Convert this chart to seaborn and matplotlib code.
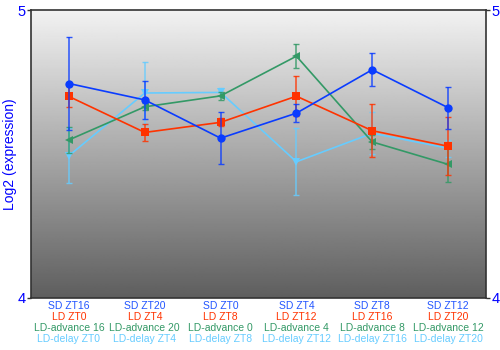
import numpy as np
import pandas as pd
import matplotlib
matplotlib.use("Agg")
import matplotlib.pyplot as plt
import seaborn as sns

# Sample groups (one label line per series under each position)
sd_labels = ["SD ZT16", "SD ZT20", "SD ZT0", "SD ZT4", "SD ZT8", "SD ZT12"]
ld_labels = ["LD ZT0", "LD ZT4", "LD ZT8", "LD ZT12", "LD ZT16", "LD ZT20"]
adv_labels = ["LD-advance 16", "LD-advance 20", "LD-advance 0",
              "LD-advance 4", "LD-advance 8", "LD-advance 12"]
delay_labels = ["LD-delay ZT0", "LD-delay ZT4", "LD-delay ZT8",
                "LD-delay ZT12", "LD-delay ZT16", "LD-delay ZT20"]

# Log2 expression means and error
sd_mean = [4.745, 4.688, 4.555, 4.642, 4.793, 4.661]
sd_err = [0.163, 0.066, 0.090, 0.032, 0.057, 0.073]
ld_mean = [4.700, 4.575, 4.610, 4.701, 4.581, 4.527]
ld_err = [0.035, 0.031, 0.014, 0.070, 0.093, 0.100]
adv_mean = [4.549, 4.664, 4.702, 4.840, 4.542, 4.464]
adv_err = [0.045, 0.012, 0.014, 0.041, 0.025, 0.062]
delay_mean = [4.494, 4.712, 4.714, 4.473, 4.572, 4.520]
delay_err = [0.096, 0.107, 0.014, 0.117, 0.073, 0.030]

series = [
    ("LD-delay", delay_mean, delay_err, "#66ccff", "v", delay_labels),
    ("LD-advance", adv_mean, adv_err, "#339966", "<", adv_labels),
    ("LD", ld_mean, ld_err, "#ff3300", "s", ld_labels),
    ("SD", sd_mean, sd_err, "#0a3cff", "o", sd_labels),
]

sns.set_theme(style="white")
plt.rcParams["font.family"] = ["Liberation Sans", "DejaVu Sans"]

fig = plt.figure(figsize=(5, 3.5), dpi=100)
ax = fig.add_axes([0.062, 0.149, 0.910, 0.822])

# grey vertical gradient background
grad = np.linspace(0.37, 0.95, 256).reshape(-1, 1)
ax.imshow(grad, cmap="gray", vmin=0, vmax=1, aspect="auto", origin="lower",
          extent=[0, 1, 0, 1], transform=ax.transAxes, zorder=0)

x = np.arange(len(sd_labels))
for i, (name, mean, err, color, marker, _) in enumerate(series):
    df = pd.DataFrame({"x": x, "y": mean})
    ax.errorbar(x, mean, yerr=err, fmt="none", ecolor=color, elinewidth=1.1,
                capsize=2.5, capthick=1.0, alpha=0.85, zorder=2 + i)
    sns.lineplot(data=df, x="x", y="y", ax=ax, color=color, marker=marker,
                 markersize=6 if marker != "s" else 5.5, markeredgewidth=0,
                 linewidth=1.2, zorder=3 + i, legend=False)

ax.set_xlim(-0.5, len(x) - 0.5)
ax.set_ylim(4, 5)
ax.set_xticks([])
ax.set_yticks([4, 5])
ax.set_yticklabels(["4", "5"])
ax.set_xlabel("")
ax.set_ylabel("Log2 (expression)", color="#0000ff", fontsize=10)
ax.yaxis.set_label_coords(-0.031, 0.5)
ax.tick_params(axis="y", which="both", left=True, right=True, labelleft=True,
               labelright=True, length=3, width=1, colors="#333333",
               labelcolor="#0000ff", labelsize=10.5, pad=1, direction="out")

for s in ax.spines.values():
    s.set_color("#333333")
    s.set_linewidth(1.2)

# multi-coloured category labels
trans = ax.get_xaxis_transform()
line_colors = ["#2255ff", "#ff3300", "#339966", "#66ccff"]
label_sets = [sd_labels, ld_labels, adv_labels, delay_labels]
for j, (labels, col) in enumerate(zip(label_sets, line_colors)):
    for xi, lab in zip(x, labels):
        ax.text(xi, -0.012 - j * 0.038, lab, transform=trans, ha="center",
                va="top", color=col, fontsize=7.5)

fig.savefig("out.png", dpi=100)
